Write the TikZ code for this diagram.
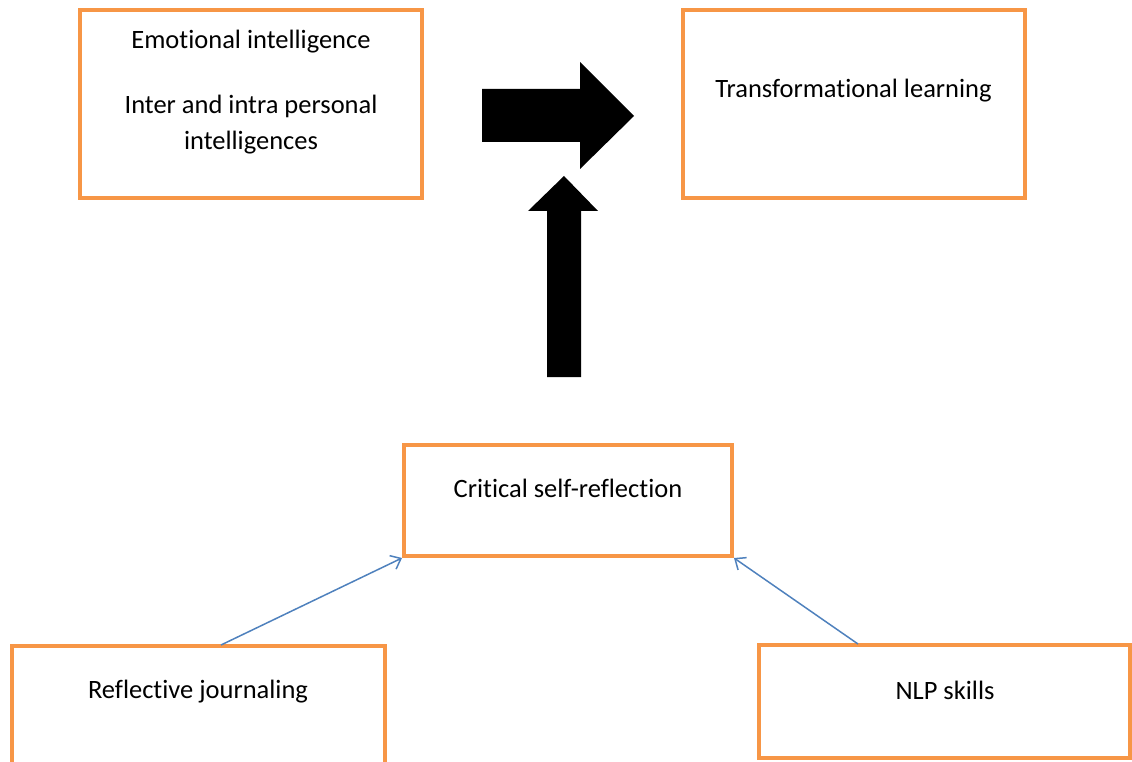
\documentclass[tikz,border=0pt]{standalone}
\usepackage{fontspec}
\setmainfont{Carlito}[Ligatures={NoCommon,NoContextual}]
\usetikzlibrary{arrows.meta}
\definecolor{boxorange}{HTML}{F79646}
\definecolor{linkblue}{HTML}{4F81BD}
\tikzset{
  obox/.style={draw=boxorange, line width=4pt, fill=white, rectangle, inner sep=0pt},
  txt/.style={font=\fontsize{26.5}{32}\selectfont, inner sep=0pt, align=center},
  blockarrow/.style={fill=black, draw=none},
  link/.style={draw=linkblue, line width=1.5pt, -{Straight Barb[length=9pt,width=15pt,line width=1.5pt]}}
}
\begin{document}
\begin{tikzpicture}[x=1pt,y=-1pt]
\useasboundingbox (0,0) rectangle (1132,762);
\clip (0,0) rectangle (1132,762);
% boxes
\node[obox, minimum width=342pt, minimum height=188pt] (ei) at (251,104) {};
\node[obox, minimum width=342pt, minimum height=188pt] (tl) at (853.5,104) {};
\node[obox, minimum width=328pt, minimum height=111pt] (csr) at (568,500.5) {};
\node[obox, minimum width=373pt, minimum height=140pt] (rj) at (198.5,716) {};
\node[obox, minimum width=371pt, minimum height=113pt] (nlp) at (944.5,701.5) {};
% texts
\node[txt] (t1) at (251,42) {Emotional intelligence};
\node[txt] (t2) at (251,106) {Inter and intra personal};
\node[txt] (t3) at (251,143) {intelligences};
\node[txt] (t4) at (853.5,91) {Transformational learning};
\node[txt] (t5) at (568,488) {Critical self-reflection};
\node[txt] (t6) at (198,692) {Reflective journaling};
\node[txt] (t7) at (945,690) {NLP skills};
% block arrows
\fill[blockarrow] (482,89) -- (580,89) -- (580,62) -- (634,116) -- (580,169) -- (580,142) -- (482,142) -- cycle;
\fill[blockarrow] (547,377) -- (547,211) -- (528,211) -- (564,176) -- (598,211) -- (581,211) -- (581,377) -- cycle;
% connectors
\coordinate (rjtop) at (221,645);
\coordinate (nlptop) at (858,644);
\draw[link] (rjtop) -- (csr.south west);
\draw[link] (nlptop) -- (csr.south east);
\end{tikzpicture}
\end{document}
